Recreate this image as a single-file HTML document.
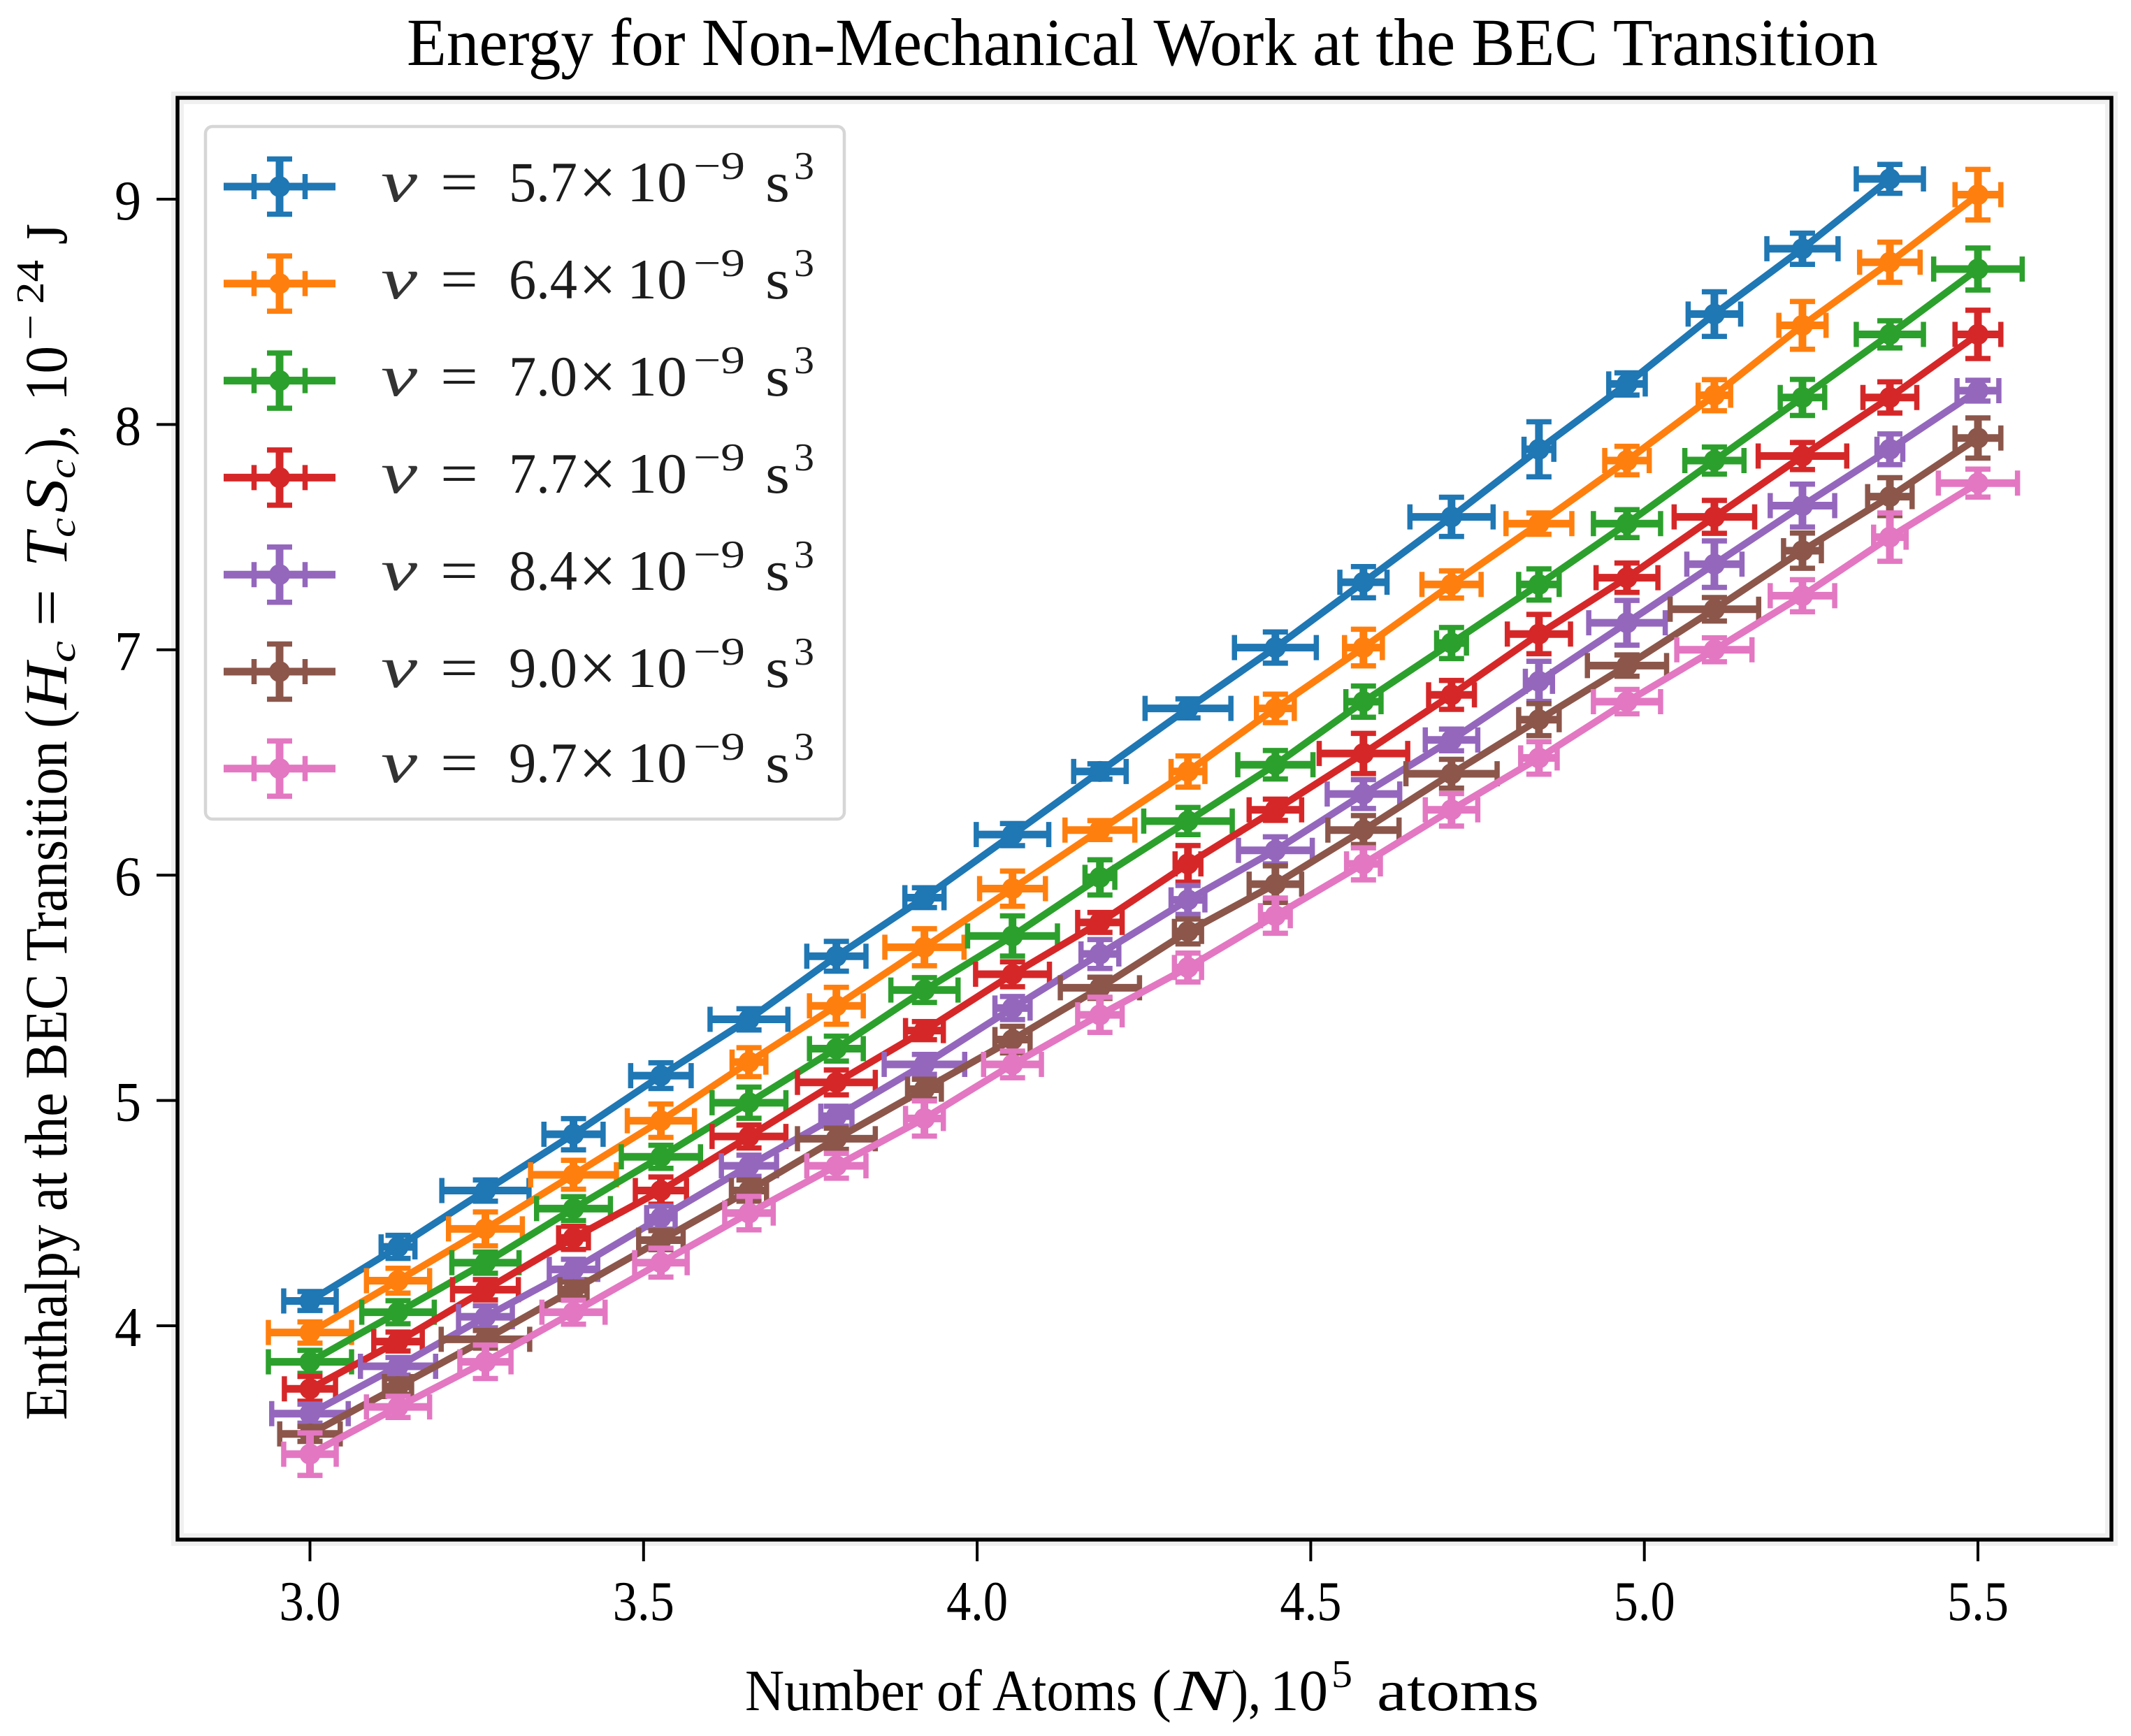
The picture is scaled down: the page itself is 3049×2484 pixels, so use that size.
<!DOCTYPE html>
<html>
<head>
<meta charset="utf-8">
<title>Energy for Non-Mechanical Work at the BEC Transition</title>
<style>
html,body{margin:0;padding:0;background:#fff;}
svg{display:block;}
text{font-family:"Liberation Serif","DejaVu Serif",serif;fill:#000;}
.lg text{fill:#1c1c1c;}
</style>
</head>
<body>
<svg id="chart" xmlns="http://www.w3.org/2000/svg" width="3049" height="2484" viewBox="0 0 3049 2484">
  <rect x="0" y="0" width="3049" height="2484" fill="#ffffff"/>
  <rect x="254" y="140" width="2767" height="2063" fill="#ffffff" stroke="#f0f0f0" stroke-width="18"/>
  <g id="series-layer"></g>
  <rect x="254" y="140" width="2767" height="2063" fill="none" stroke="#000" stroke-width="5.5"/>
  <g id="x-axis"></g>
  <g id="y-axis"></g>

  <text x="582" y="93" font-size="96" textLength="2105" lengthAdjust="spacingAndGlyphs">Energy for Non-Mechanical Work at the BEC Transition</text>

  <g font-size="84">
    <text x="1066" y="2447" textLength="561" lengthAdjust="spacingAndGlyphs">Number of Atoms</text>
    <text x="1648" y="2447" textLength="28" lengthAdjust="spacingAndGlyphs">(</text>
    <text x="1680" y="2447" font-style="italic" textLength="80" lengthAdjust="spacingAndGlyphs">N</text>
    <text x="1762" y="2447" textLength="42" lengthAdjust="spacingAndGlyphs">),</text>
    <text x="1817" y="2447" textLength="83" lengthAdjust="spacingAndGlyphs">10</text>
    <text x="1905" y="2414" font-size="56" textLength="30" lengthAdjust="spacingAndGlyphs">5</text>
    <text x="1970" y="2447" textLength="232" lengthAdjust="spacingAndGlyphs">atoms</text>
  </g>

  <g transform="translate(95,2039) rotate(-90)" font-size="86">
    <text x="7" y="0" textLength="972" lengthAdjust="spacingAndGlyphs">Enthalpy at the BEC Transition</text>
    <text x="997" y="0" textLength="26" lengthAdjust="spacingAndGlyphs">(</text>
    <text x="1024" y="0" font-style="italic" textLength="67" lengthAdjust="spacingAndGlyphs">H</text>
    <text x="1091" y="12" font-size="54" font-style="italic" textLength="31" lengthAdjust="spacingAndGlyphs">c</text>
    <text x="1143" y="0" textLength="53" lengthAdjust="spacingAndGlyphs">=</text>
    <text x="1228" y="0" font-style="italic" textLength="49" lengthAdjust="spacingAndGlyphs">T</text>
    <text x="1270" y="12" font-size="54" font-style="italic" textLength="28" lengthAdjust="spacingAndGlyphs">c</text>
    <text x="1305" y="0" font-style="italic" textLength="49" lengthAdjust="spacingAndGlyphs">S</text>
    <text x="1354" y="12" font-size="54" font-style="italic" textLength="28" lengthAdjust="spacingAndGlyphs">c</text>
    <text x="1387" y="0" textLength="44" lengthAdjust="spacingAndGlyphs">),</text>
    <text x="1465" y="0" textLength="79" lengthAdjust="spacingAndGlyphs">10</text>
    <text x="1552" y="-33" font-size="56" textLength="37" lengthAdjust="spacingAndGlyphs">−</text>
    <text x="1604" y="-33" font-size="56" textLength="63" lengthAdjust="spacingAndGlyphs">24</text>
    <text x="1689" y="0" textLength="30" lengthAdjust="spacingAndGlyphs">J</text>
  </g>

  <g class="lg">
    <rect x="294" y="181" width="914" height="991" rx="10" ry="10" fill="#ffffff" fill-opacity="0.85" stroke="#d6d6d6" stroke-width="4.5"/>
    <g id="legend-handles"></g>
    <g transform="translate(0,288)" font-size="82"><text x="545" font-size="84" font-style="italic" textLength="52" lengthAdjust="spacingAndGlyphs" style="fill:#333">ν</text><text x="630" textLength="54" lengthAdjust="spacingAndGlyphs">=</text><text x="728" textLength="98" lengthAdjust="spacingAndGlyphs">5.7</text><text x="828" y="6" font-size="100" textLength="54" lengthAdjust="spacingAndGlyphs">×</text><text x="897" textLength="86" lengthAdjust="spacingAndGlyphs">10</text><text x="992" y="-32" font-size="56" textLength="74" lengthAdjust="spacingAndGlyphs">−9</text><text x="1095" textLength="35" lengthAdjust="spacingAndGlyphs">s</text><text x="1136" y="-32" font-size="56" textLength="29" lengthAdjust="spacingAndGlyphs">3</text></g>
    <g transform="translate(0,427)" font-size="82"><text x="545" font-size="84" font-style="italic" textLength="52" lengthAdjust="spacingAndGlyphs" style="fill:#333">ν</text><text x="630" textLength="54" lengthAdjust="spacingAndGlyphs">=</text><text x="728" textLength="98" lengthAdjust="spacingAndGlyphs">6.4</text><text x="828" y="6" font-size="100" textLength="54" lengthAdjust="spacingAndGlyphs">×</text><text x="897" textLength="86" lengthAdjust="spacingAndGlyphs">10</text><text x="992" y="-32" font-size="56" textLength="74" lengthAdjust="spacingAndGlyphs">−9</text><text x="1095" textLength="35" lengthAdjust="spacingAndGlyphs">s</text><text x="1136" y="-32" font-size="56" textLength="29" lengthAdjust="spacingAndGlyphs">3</text></g>
    <g transform="translate(0,566)" font-size="82"><text x="545" font-size="84" font-style="italic" textLength="52" lengthAdjust="spacingAndGlyphs" style="fill:#333">ν</text><text x="630" textLength="54" lengthAdjust="spacingAndGlyphs">=</text><text x="728" textLength="98" lengthAdjust="spacingAndGlyphs">7.0</text><text x="828" y="6" font-size="100" textLength="54" lengthAdjust="spacingAndGlyphs">×</text><text x="897" textLength="86" lengthAdjust="spacingAndGlyphs">10</text><text x="992" y="-32" font-size="56" textLength="74" lengthAdjust="spacingAndGlyphs">−9</text><text x="1095" textLength="35" lengthAdjust="spacingAndGlyphs">s</text><text x="1136" y="-32" font-size="56" textLength="29" lengthAdjust="spacingAndGlyphs">3</text></g>
    <g transform="translate(0,705)" font-size="82"><text x="545" font-size="84" font-style="italic" textLength="52" lengthAdjust="spacingAndGlyphs" style="fill:#333">ν</text><text x="630" textLength="54" lengthAdjust="spacingAndGlyphs">=</text><text x="728" textLength="98" lengthAdjust="spacingAndGlyphs">7.7</text><text x="828" y="6" font-size="100" textLength="54" lengthAdjust="spacingAndGlyphs">×</text><text x="897" textLength="86" lengthAdjust="spacingAndGlyphs">10</text><text x="992" y="-32" font-size="56" textLength="74" lengthAdjust="spacingAndGlyphs">−9</text><text x="1095" textLength="35" lengthAdjust="spacingAndGlyphs">s</text><text x="1136" y="-32" font-size="56" textLength="29" lengthAdjust="spacingAndGlyphs">3</text></g>
    <g transform="translate(0,844)" font-size="82"><text x="545" font-size="84" font-style="italic" textLength="52" lengthAdjust="spacingAndGlyphs" style="fill:#333">ν</text><text x="630" textLength="54" lengthAdjust="spacingAndGlyphs">=</text><text x="728" textLength="98" lengthAdjust="spacingAndGlyphs">8.4</text><text x="828" y="6" font-size="100" textLength="54" lengthAdjust="spacingAndGlyphs">×</text><text x="897" textLength="86" lengthAdjust="spacingAndGlyphs">10</text><text x="992" y="-32" font-size="56" textLength="74" lengthAdjust="spacingAndGlyphs">−9</text><text x="1095" textLength="35" lengthAdjust="spacingAndGlyphs">s</text><text x="1136" y="-32" font-size="56" textLength="29" lengthAdjust="spacingAndGlyphs">3</text></g>
    <g transform="translate(0,983)" font-size="82"><text x="545" font-size="84" font-style="italic" textLength="52" lengthAdjust="spacingAndGlyphs" style="fill:#333">ν</text><text x="630" textLength="54" lengthAdjust="spacingAndGlyphs">=</text><text x="728" textLength="98" lengthAdjust="spacingAndGlyphs">9.0</text><text x="828" y="6" font-size="100" textLength="54" lengthAdjust="spacingAndGlyphs">×</text><text x="897" textLength="86" lengthAdjust="spacingAndGlyphs">10</text><text x="992" y="-32" font-size="56" textLength="74" lengthAdjust="spacingAndGlyphs">−9</text><text x="1095" textLength="35" lengthAdjust="spacingAndGlyphs">s</text><text x="1136" y="-32" font-size="56" textLength="29" lengthAdjust="spacingAndGlyphs">3</text></g>
    <g transform="translate(0,1119)" font-size="82"><text x="545" font-size="84" font-style="italic" textLength="52" lengthAdjust="spacingAndGlyphs" style="fill:#333">ν</text><text x="630" textLength="54" lengthAdjust="spacingAndGlyphs">=</text><text x="728" textLength="98" lengthAdjust="spacingAndGlyphs">9.7</text><text x="828" y="6" font-size="100" textLength="54" lengthAdjust="spacingAndGlyphs">×</text><text x="897" textLength="86" lengthAdjust="spacingAndGlyphs">10</text><text x="992" y="-32" font-size="56" textLength="74" lengthAdjust="spacingAndGlyphs">−9</text><text x="1095" textLength="35" lengthAdjust="spacingAndGlyphs">s</text><text x="1136" y="-32" font-size="56" textLength="29" lengthAdjust="spacingAndGlyphs">3</text></g>
  </g>
</svg>
<script>
// ---- chart data ----
const atomCounts = [3.000,3.132,3.263,3.395,3.526,3.658,3.789,3.921,4.053,4.184,4.316,4.447,4.579,4.711,4.842,4.974,5.105,5.237,5.368,5.500];
const xTickLabels = ["3.0","3.5","4.0","4.5","5.0","5.5"];
const yTickLabels = ["4","5","6","7","8","9"];
const seriesNames = ["5.7","6.4","7.0","7.7","8.4","9.0","9.7"];

const enthalpy57 = [4.11,4.35,4.60,4.85,5.11,5.36,5.64,5.90,6.18,6.46,6.74,7.01,7.30,7.59,7.89,8.18,8.49,8.78,9.09];
const enthalpy64 = [3.97,4.20,4.43,4.67,4.91,5.17,5.42,5.68,5.94,6.20,6.46,6.74,7.01,7.29,7.56,7.84,8.13,8.44,8.72,9.02];
const enthalpy70 = [3.84,4.06,4.28,4.52,4.75,4.99,5.23,5.49,5.73,5.99,6.24,6.49,6.77,7.03,7.29,7.56,7.84,8.12,8.40,8.69];
const enthalpy77 = [3.72,3.93,4.16,4.39,4.60,4.84,5.08,5.31,5.56,5.79,6.05,6.29,6.54,6.80,7.07,7.32,7.59,7.86,8.12,8.40];
const enthalpy84 = [3.61,3.82,4.04,4.25,4.48,4.71,4.93,5.16,5.41,5.65,5.89,6.11,6.36,6.60,6.86,7.12,7.38,7.64,7.89,8.15];
const enthalpy90 = [3.52,3.73,3.94,4.16,4.38,4.60,4.83,5.05,5.27,5.50,5.75,5.96,6.20,6.45,6.69,6.93,7.18,7.44,7.68,7.94];
const enthalpy97 = [3.43,3.64,3.84,4.06,4.28,4.50,4.71,4.92,5.16,5.38,5.59,5.82,6.05,6.29,6.52,6.77,7.00,7.24,7.50,7.74];

const xErr57 = [.043,.029,.069,.048,.049,.062,.048,.033,.058,.043,.068,.065,.039,.066,.026,.031,.043,.057,.054];
const xErr64 = [.066,.051,.059,.068,.054,.029,.044,.063,.053,.056,.029,.032,.032,.048,.053,.037,.028,.039,.049,.038];
const xErr70 = [.066,.058,.054,.059,.063,.059,.044,.054,.071,.026,.070,.060,.030,.026,.034,.054,.048,.037,.054,.070];
const xErr77 = [.042,.040,.053,.026,.042,.059,.062,.032,.059,.037,.023,.043,.070,.038,.051,.050,.064,.070,.044,.038];
const xErr84 = [.061,.060,.044,.040,.025,.045,.027,.064,.030,.032,.029,.059,.058,.043,.024,.061,.045,.052,.023,.035];
const xErr90 = [.049,.024,.070,.024,.037,.030,.062,.029,.030,.063,.024,.043,.057,.072,.034,.063,.070,.032,.037,.038];
const xErr97 = [.043,.051,.042,.051,.043,.040,.048,.032,.047,.037,.024,.026,.029,.043,.031,.054,.060,.052,.028,.063];

const yErr57 = [.053,.062,.058,.080,.068,.058,.077,.055,.060,.045,.053,.080,.080,.098,.133,.060,.110,.080,.075];
const yErr64 = [.058,.066,.086,.075,.085,.075,.093,.093,.089,.053,.080,.074,.092,.071,.058,.074,.080,.117,.100,.123];
const yErr70 = [.062,.062,.058,.064,.062,.080,.066,.066,.100,.089,.071,.074,.080,.080,.080,.073,.071,.091,.071,.104];
const yErr77 = [.066,.053,.056,.062,.071,.062,.066,.051,.066,.055,.092,.058,.100,.075,.098,.076,.084,.071,.080,.118];
const yErr84 = [.053,.050,.060,.056,.062,.058,.055,.055,.062,.075,.075,.071,.075,.059,.100,.110,.114,.106,.079,.057];
const yErr90 = [.044,.045,.050,.045,.053,.058,.058,.055,.070,.058,.066,.092,.075,.075,.082,.058,.063,.089,.095,.100];
const yErr97 = [.105,.058,.085,.064,.075,.085,.066,.089,.070,.089,.075,.089,.082,.083,.083,.065,.064,.082,.118,.073];

const seriesValues = [enthalpy57,enthalpy64,enthalpy70,enthalpy77,enthalpy84,enthalpy90,enthalpy97];
const seriesXErr = [xErr57,xErr64,xErr70,xErr77,xErr84,xErr90,xErr97];
const seriesYErr = [yErr57,yErr64,yErr70,yErr77,yErr84,yErr90,yErr97];

// ---- styling / axis mapping ----
const seriesColors = ["#1f77b4","#ff7f0e","#2ca02c","#d62728","#9467bd","#8c564b","#e377c2"];
const NS = "http://www.w3.org/2000/svg";
function xScale(v){ return 443.5 + (v - 3) * 954.6; }
function yScale(v){ return 285 + (9 - v) * 322.4; }
function mk(tag, attrs, parent){
  const el = document.createElementNS(NS, tag);
  for (const k in attrs) el.setAttribute(k, attrs[k]);
  parent.appendChild(el);
  return el;
}
const LINE_W = 10, BAR_W = 11, CAP_W = 7.5, CAP_HALF = 18, MARK_R = 15, CAP_INSET = 3.5;

function drawErrorGlyph(parent, cx, cy, x0Raw, x1Raw, y0Raw, y1Raw, color){
  const x0 = x0Raw + CAP_INSET, x1 = x1Raw - CAP_INSET, y0 = y0Raw + CAP_INSET, y1 = y1Raw - CAP_INSET;
  const hBar = mk("line", {x1:x0, y1:cy, x2:x1, y2:cy, stroke:color, "stroke-width":BAR_W}, parent);
  
  
  const vBar = mk("line", {x1:cx, y1:y0, x2:cx, y2:y1, stroke:color, "stroke-width":BAR_W}, parent);
  
  
  [x0, x1].forEach(function(x){
    const cap = mk("line", {x1:x, y1:cy-CAP_HALF, x2:x, y2:cy+CAP_HALF, stroke:color, "stroke-width":CAP_W}, parent);
    
    
  });
  [y0, y1].forEach(function(y){
    const cap = mk("line", {x1:cx-CAP_HALF, y1:y, x2:cx+CAP_HALF, y2:y, stroke:color, "stroke-width":CAP_W}, parent);
    
    
  });
  const dot = mk("circle", {cx:cx, cy:cy, r:MARK_R, fill:color}, parent);
  
  
}

// ---- series ----
const seriesLayer = document.getElementById("series-layer");
seriesValues.forEach(function(values, s){
  const g = mk("g", {}, seriesLayer);
  
  
  const pts = values.map(function(v, i){ return xScale(atomCounts[i]).toFixed(1) + "," + yScale(v).toFixed(1); }).join(" ");
  const line = mk("polyline", {points:pts, fill:"none", stroke:seriesColors[s], "stroke-width":LINE_W, "stroke-linejoin":"round"}, g);
  
  
  values.forEach(function(v, i){
    const xe = seriesXErr[s][i], ye = seriesYErr[s][i], xv = atomCounts[i];
    drawErrorGlyph(g, xScale(xv), yScale(v), xScale(xv - xe), xScale(xv + xe), yScale(v + ye), yScale(v - ye), seriesColors[s]);
  });
});

// ---- legend handles ----
const legendHandles = document.getElementById("legend-handles");
seriesNames.forEach(function(name, s){
  const cy = 267 + s * 138.8;
  const g = mk("g", {}, legendHandles);
  
  
  const hl = mk("line", {x1:320, y1:cy, x2:480, y2:cy, stroke:seriesColors[s], "stroke-width":LINE_W + 1}, g);
  
  
  drawErrorGlyph(g, 400, cy, 360, 440, cy - 43, cy + 43, seriesColors[s]);
});

// ---- axes ----
const xAxis = document.getElementById("x-axis");
xTickLabels.forEach(function(label){
  const x = xScale(parseFloat(label));
  const tick = mk("line", {x1:x, y1:2205, x2:x, y2:2234, stroke:"#000", "stroke-width":4}, xAxis);
  
  
  const t = mk("text", {x:x, y:2318, "font-size":80, "text-anchor":"middle", textLength:88, lengthAdjust:"spacingAndGlyphs"}, xAxis);
  
  
  t.textContent = label;
});
const yAxis = document.getElementById("y-axis");
yTickLabels.forEach(function(label){
  const y = yScale(parseFloat(label));
  const tick = mk("line", {x1:224, y1:y, x2:252, y2:y, stroke:"#000", "stroke-width":4}, yAxis);
  
  
  const t = mk("text", {x:202, y:y + 29, "font-size":80, "text-anchor":"end", textLength:38, lengthAdjust:"spacingAndGlyphs"}, yAxis);
  
  
  t.textContent = label;
});
</script>
</body>
</html>
